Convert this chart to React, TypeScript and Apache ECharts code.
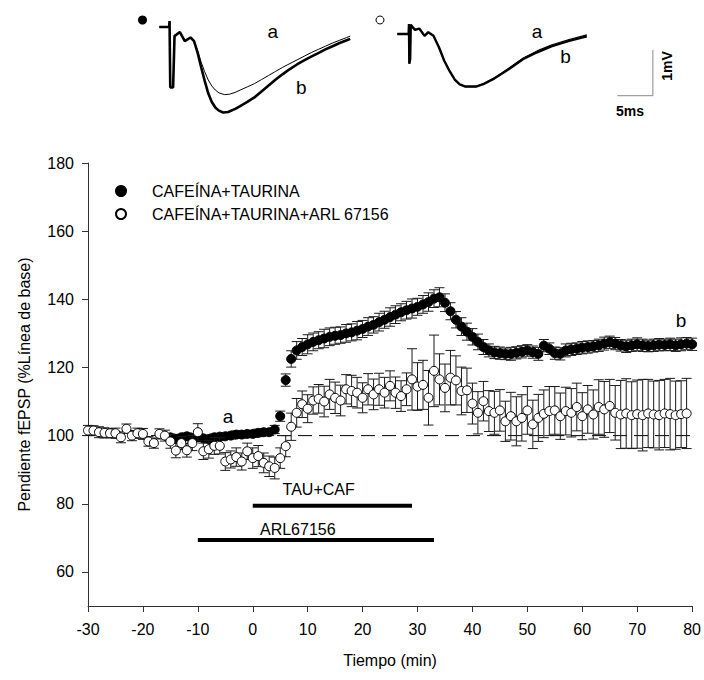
import React, { useEffect, useRef } from 'react';
import * as echarts from 'echarts';

const FONT = '"Liberation Sans", Arial, Helvetica, sans-serif';

// ---- Main time course ----
const cafTauName = 'CAFEÍNA+TAURINA';
const arlName = 'CAFEÍNA+TAURINA+ARL 67156';

const cafTauTime = [
  -15, -14, -13, -12, -11, -10, -9, -8, -7, -6, -5, -4, -3, -2, -1,
  0, 1, 2, 3, 4, 5, 6, 7, 8, 9, 10, 11, 12, 13, 14, 15, 16, 17, 18, 19,
  20, 21, 22, 23, 24, 25, 26, 27, 28, 29, 30, 31, 32, 33, 34, 35, 36, 37, 38, 39,
  40, 41, 42, 43, 44, 45, 46, 47, 48, 49, 50, 51, 52, 53, 54, 55, 56, 57, 58, 59,
  60, 61, 62, 63, 64, 65, 66, 67, 68, 69, 70, 71, 72, 73, 74, 75, 76, 77, 78, 79, 80,
];
const cafTauMean = [
  99.5, 99.0, 99.5, 99.8, 99.3, 99.5, 99.2, 99.0, 99.5, 99.7, 99.8, 100.0, 100.3, 100.3, 100.5,
  100.5, 100.8, 101.0, 101.0, 101.8, 105.7, 116.3, 122.5, 125.0, 126.0, 126.8, 127.5, 128.0, 128.5, 129.0,
  129.3, 129.5, 130.0, 130.3, 130.8, 131.3, 132.0, 132.5, 133.3, 134.0, 134.8, 135.5, 136.2, 136.8, 137.3,
  137.8, 138.5, 139.2, 140.2, 140.6, 139.0, 136.5, 134.0, 132.0, 130.5, 129.0, 127.5, 126.0, 125.0, 124.4,
  124.2, 124.0, 124.0, 124.3, 124.6, 125.0, 124.5, 124.0, 126.4, 125.5, 124.2, 124.0, 125.0, 125.3, 125.5,
  125.8, 126.0, 126.2, 126.5, 127.0, 127.4, 127.0, 126.5, 126.2, 126.5, 126.8, 126.5, 126.3, 126.5, 126.7,
  126.6, 126.8, 126.5, 126.8, 127.0, 126.8,
];
const cafTauSem = [
  1.0, 1.1, 0.9, 1.0, 1.2, 1.0, 0.9, 1.1, 1.0, 1.0, 0.9, 1.0, 1.1, 1.0, 0.9,
  1.0, 1.1, 1.0, 1.0, 1.2, 1.5, 1.8, 2.4, 2.6, 2.5, 2.8, 2.6, 2.5, 2.7, 2.6,
  2.5, 2.4, 2.6, 2.5, 2.7, 2.5, 2.6, 2.4, 2.6, 2.5, 2.7, 2.6, 2.5, 2.6, 2.8,
  2.5, 2.6, 2.7, 2.6, 2.8, 2.6, 2.5, 2.4, 2.6, 2.5, 2.4, 2.3, 2.2, 1.9, 1.8,
  1.8, 1.7, 1.9, 1.8, 1.8, 1.7, 1.8, 1.9, 1.8, 1.7, 1.8, 1.8, 1.9, 1.8, 1.7,
  1.8, 1.8, 1.7, 1.8, 1.9, 1.8, 1.8, 1.7, 1.8, 1.8, 1.9, 1.8, 1.7, 1.8, 1.8,
  1.7, 1.8, 1.8, 1.9, 1.8, 1.8,
];

const arlTime = [
  -30, -29, -28, -27, -26, -25, -24, -23, -22, -21, -20, -19, -18, -17, -16,
  -15, -14, -13, -12, -11, -10, -9, -8, -7, -6, -5, -4, -3, -2, -1,
  0, 1, 2, 3, 4, 5, 6, 7, 8, 9, 10, 11, 12, 13, 14, 15, 16, 17, 18, 19,
  20, 21, 22, 23, 24, 25, 26, 27, 28, 29, 30, 31, 32, 33, 34, 35, 36, 37, 38, 39,
  40, 41, 42, 43, 44, 45, 46, 47, 48, 49, 50, 51, 52, 53, 54, 55, 56, 57, 58, 59,
  60, 61, 62, 63, 64, 65, 66, 67, 68, 69, 70, 71, 72, 73, 74, 75, 76, 77, 78, 79,
];
const arlMean = [
  101.5, 101.5, 101.0, 100.8, 100.7, 100.7, 99.5, 102.0, 100.0, 100.7,
  100.5, 98.3, 97.8, 100.5, 100.0, 98.3, 95.6, 97.8, 95.7, 97.8,
  101.0, 95.4, 96.0, 97.0, 97.0, 92.4, 93.0, 93.7, 92.4, 95.4,
  93.4, 94.0, 92.0, 91.0, 90.5, 93.4, 96.9, 102.6, 106.7, 109.2,
  107.9, 110.3, 110.8, 110.0, 112.1, 111.1, 110.3, 113.6, 113.1, 112.6,
  111.1, 113.6, 112.1, 113.6, 112.6, 114.6, 112.6, 111.6, 113.6, 116.5,
  114.4, 114.9, 111.1, 119.0, 116.5, 114.0, 117.0, 116.2, 113.1, 113.3,
  109.4, 106.7, 110.1, 107.2, 106.7, 107.4, 104.2, 105.7, 104.2, 105.2,
  107.4, 103.3, 105.2, 106.4, 107.2, 107.4, 105.7, 107.2, 106.7, 108.4,
  105.7, 107.7, 106.2, 108.4, 107.7, 108.7, 106.7, 106.2, 106.5, 106.0,
  106.3, 106.0, 106.5, 106.2, 106.0, 106.5, 106.3, 106.0, 106.3, 106.5,
];
const arlSem = [
  1.5, 1.4, 1.6, 1.5, 1.3, 1.5, 1.6, 1.4, 1.5, 1.5, 1.6, 1.4, 1.5, 1.5, 1.6,
  2.0, 2.1, 1.9, 2.0, 2.2, 2.5, 2.4, 2.6, 2.5, 2.4, 2.6, 2.5, 2.7, 2.5, 2.4,
  3.0, 3.1, 2.9, 3.0, 3.2, 3.0, 3.1, 4.0, 4.2, 3.9, 4.1, 4.0, 4.2, 4.5, 4.4,
  4.6, 4.5, 4.3, 4.6, 4.5, 4.4, 4.6, 4.5, 4.7, 4.5, 4.4, 4.6, 4.5, 4.8, 9.0,
  7.0, 7.2, 8.0, 10.5, 7.5, 7.0, 8.0, 7.2, 7.0, 6.5, 6.0, 6.2, 5.8, 6.0, 6.3,
  6.1, 5.9, 7.0, 7.2, 6.8, 7.0, 7.1, 6.9, 7.0, 7.2, 7.0, 6.8, 7.0, 7.1, 7.0,
  6.9, 7.0, 7.2, 8.0, 8.2, 7.8, 8.0, 10.0, 10.2, 9.8, 10.0, 10.5, 10.0, 9.8,
  10.2, 10.0, 10.5, 10.0, 9.8, 10.3,
];

const baselineLevel = 100;
const xRange = [-30, 80];
const yTickValues = [60, 80, 100, 120, 140, 160, 180];

// ---- Treatment bars ----
const treatmentNames = ['TAU+CAF', 'ARL67156'];
const treatmentStart = [0, -10];
const treatmentEnd = [29, 33];
const treatmentLevel = [79.4, 69.4];
const treatmentLabelX = [12, 8.2];
const treatmentLabelY = [84.2, 72.4];

// ---- Annotations on main plot ----
const annotText = ['a', 'b'];
const annotX = [-4.5, 78];
const annotY = [105.6, 133.9];

// ---- Inset traces (ms, mV) ----
const trace1B: number[][] = [
  [0.6, 0], [2.0, 0], [2.05, 0.13], [2.15, -1.32], [2.55, -1.32], [2.75, -0.2], [3.5, -0.11],
  [4.2, -0.31], [5.0, -0.23], [5.5, -0.31], [6.0, -0.56], [6.5, -0.88], [7.0, -1.18], [7.5, -1.45],
  [8.0, -1.64], [8.5, -1.76], [9.0, -1.83], [9.6, -1.87], [10.3, -1.86], [11.3, -1.79], [12, -1.73],
  [13, -1.64], [14, -1.54], [15, -1.41], [16, -1.28], [17, -1.15], [18, -1.03], [19, -0.92],
  [20, -0.82], [21, -0.73], [22, -0.65], [23, -0.57], [24, -0.49], [25, -0.42], [26, -0.35],
  [27, -0.29], [27.5, -0.26],
];
const trace1A: number[][] = [
  [0.6, 0], [2.0, 0], [2.05, 0.13], [2.15, -1.32], [2.55, -1.32], [2.75, -0.2], [3.5, -0.11],
  [4.2, -0.31], [5.0, -0.23], [5.5, -0.31], [6.0, -0.52], [6.5, -0.77], [7.0, -0.98], [7.5, -1.16],
  [8.0, -1.29], [8.5, -1.38], [9.0, -1.44], [9.8, -1.48], [10.5, -1.47], [11.3, -1.43], [12, -1.38],
  [13, -1.31], [14, -1.24], [15, -1.15], [16, -1.06], [17, -0.97], [18, -0.88], [19, -0.8],
  [20, -0.72], [21, -0.64], [22, -0.56], [23, -0.49], [24, -0.42], [25, -0.35], [26, -0.29],
  [27, -0.23], [27.5, -0.2],
];
const trace2B: number[][] = [
  [0.6, 0], [2.2, 0], [2.25, 0.22], [2.3, -0.65], [2.42, -0.55], [2.5, 0.2], [3.1, 0.09],
  [3.7, 0.12], [4.45, -0.04], [4.96, 0.04], [5.7, -0.04], [6.5, -0.3], [7.2, -0.58], [8.0, -0.82],
  [8.7, -1.0], [9.4, -1.1], [10.2, -1.15], [11.7, -1.15], [12.8, -1.09], [14.3, -0.97], [16.3, -0.77],
  [18.3, -0.55], [20.3, -0.4], [22.3, -0.27], [24.8, -0.15], [27.3, -0.05],
];
const trace2A: number[][] = [
  [0.6, 0], [2.2, 0], [2.25, 0.22], [2.3, -0.65], [2.42, -0.55], [2.5, 0.2], [3.1, 0.09],
  [3.7, 0.12], [4.45, -0.04], [4.96, 0.04], [5.7, -0.04], [6.5, -0.3], [7.2, -0.58], [8.0, -0.82],
  [8.7, -1.0], [9.4, -1.1], [10.2, -1.15], [11.7, -1.15], [12.8, -1.09], [14.3, -0.96], [16.3, -0.75],
  [18.3, -0.53], [20.3, -0.37], [22.3, -0.24], [24.8, -0.12], [27.3, -0.02],
];
const trace1LabelText = ['a', 'b'];
const trace1LabelX = [16.6, 20.6];
const trace1LabelY = [-0.1, -1.32];
const trace2LabelText = ['a', 'b'];
const trace2LabelX = [20.3, 24.3];
const trace2LabelY = [0.05, -0.5];
const scaleBarX = [31.6, 36.6, 36.6];
const scaleBarY = [-1.35, -1.35, -0.35];

function errorBarRender(params: any, api: any) {
  const x = api.value(0);
  const lo = api.coord([x, api.value(1)]);
  const hi = api.coord([x, api.value(2)]);
  const half = 5;
  const style = { stroke: '#1a1a1a', lineWidth: 1 };
  return {
    type: 'group',
    children: [
      { type: 'line', shape: { x1: lo[0], y1: lo[1], x2: hi[0], y2: hi[1] }, style },
      { type: 'line', shape: { x1: lo[0] - half, y1: lo[1], x2: lo[0] + half, y2: lo[1] }, style },
      { type: 'line', shape: { x1: hi[0] - half, y1: hi[1], x2: hi[0] + half, y2: hi[1] }, style },
    ],
  };
}

function labelScatter(names: string[], xs: number[], ys: number[], fontSize: number, axisIndex: number) {
  return {
    type: 'scatter',
    xAxisIndex: axisIndex,
    yAxisIndex: axisIndex,
    data: names.map((n, i) => ({ name: n, value: [xs[i], ys[i]] })),
    symbolSize: 1,
    itemStyle: { color: 'rgba(0,0,0,0)', opacity: 1 },
    label: { show: true, position: 'inside', formatter: '{b}', color: '#000', opacity: 1, fontSize, fontFamily: FONT },
    silent: true,
    z: 2,
  };
}

function buildOption() {
  const cafPts = cafTauTime.map((t, i) => [t, cafTauMean[i]]);
  const cafErr = cafTauTime.map((t, i) => [t, cafTauMean[i] - cafTauSem[i], cafTauMean[i] + cafTauSem[i]]);
  const arlPts = arlTime.map((t, i) => [t, arlMean[i]]);
  const arlErr = arlTime.map((t, i) => [t, arlMean[i] - arlSem[i], arlMean[i] + arlSem[i]]);

  const axisColor = '#333';
  const hiddenAxis = { show: false };

  const series: any[] = [
    {
      type: 'line',
      name: 'baseline',
      data: [[xRange[0], baselineLevel], [xRange[1], baselineLevel]],
      showSymbol: false,
      lineStyle: { color: '#000', width: 1, type: [14, 7] },
      silent: true,
      z: 1,
    },
    ...treatmentNames.map((n, i) => ({
      type: 'line',
      name: n + ' bar',
      data: [[treatmentStart[i], treatmentLevel[i]], [treatmentEnd[i], treatmentLevel[i]]],
      showSymbol: false,
      lineStyle: { color: '#000', width: 4, cap: 'butt' },
      silent: true,
      z: 2,
    })),
    labelScatter(treatmentNames, treatmentLabelX, treatmentLabelY, 16, 0),
    labelScatter(annotText, annotX, annotY, 19, 0),
    {
      type: 'custom',
      name: cafTauName + ' err',
      renderItem: errorBarRender,
      data: cafErr,
      encode: { x: 0, y: [1, 2] },
      silent: true,
      z: 3,
    },
    {
      type: 'scatter',
      name: cafTauName,
      data: cafPts,
      symbol: 'circle',
      symbolSize: 9,
      itemStyle: { color: '#000', borderColor: '#000', borderWidth: 1, opacity: 1 },
      z: 4,
    },
    {
      type: 'custom',
      name: arlName + ' err',
      renderItem: errorBarRender,
      data: arlErr,
      encode: { x: 0, y: [1, 2] },
      silent: true,
      z: 5,
    },
    {
      type: 'scatter',
      name: arlName,
      data: arlPts,
      symbol: 'circle',
      symbolSize: 9,
      itemStyle: { color: '#fff', borderColor: '#000', borderWidth: 1, opacity: 1 },
      z: 6,
    },
    // Inset traces
    {
      type: 'line', xAxisIndex: 1, yAxisIndex: 1, data: trace1A, showSymbol: false,
      lineStyle: { color: '#000', width: 1 }, silent: true, z: 2,
    },
    {
      type: 'line', xAxisIndex: 1, yAxisIndex: 1, data: trace1B, showSymbol: false,
      lineStyle: { color: '#000', width: 2.6 }, silent: true, z: 2,
    },
    labelScatter(trace1LabelText, trace1LabelX, trace1LabelY, 19, 1),
    {
      type: 'line', xAxisIndex: 2, yAxisIndex: 2, data: trace2A, showSymbol: false,
      lineStyle: { color: '#000', width: 1.2 }, silent: true, z: 2,
    },
    {
      type: 'line', xAxisIndex: 2, yAxisIndex: 2, data: trace2B, showSymbol: false,
      lineStyle: { color: '#000', width: 2.4 }, silent: true, z: 2,
    },
    {
      type: 'line', xAxisIndex: 2, yAxisIndex: 2,
      data: scaleBarX.map((x, i) => [x, scaleBarY[i]]), showSymbol: false,
      lineStyle: { color: '#888', width: 1 }, silent: true, z: 2,
    },
    labelScatter(trace2LabelText, trace2LabelX, trace2LabelY, 19, 2),
  ];

  return {
    animation: false,
    backgroundColor: '#fff',
    textStyle: { fontFamily: FONT },
    legend: {
      data: [cafTauName, arlName],
      orient: 'vertical',
      left: 110,
      top: 178,
      itemGap: 7,
      itemWidth: 10,
      itemHeight: 10,
      icon: 'circle',
      textStyle: { fontSize: 16, color: '#000', fontFamily: FONT, padding: [0, 0, 0, 21] },
      selectedMode: false,
    },
    grid: [
      { left: 88, right: 7, top: 163, bottom: 74 },
      { left: 155, top: 13.3, width: 198.8, height: 123.4 },
      { left: 393, top: 20.3, width: 262.7, height: 123.4 },
    ],
    xAxis: [
      {
        type: 'value', gridIndex: 0, min: xRange[0], max: xRange[1], interval: 10,
        name: 'Tiempo (min)', nameLocation: 'middle', nameGap: 46,
        nameTextStyle: { fontSize: 16, color: '#000', fontFamily: FONT },
        axisLine: { onZero: false, lineStyle: { color: axisColor, width: 1 } },
        axisTick: { show: true, length: 6, lineStyle: { color: axisColor } },
        axisLabel: { fontSize: 16, color: '#000', margin: 15, fontFamily: FONT },
        splitLine: { show: false },
      },
      { type: 'value', gridIndex: 1, min: 0, max: 28, ...hiddenAxis },
      { type: 'value', gridIndex: 2, min: 0, max: 37, ...hiddenAxis },
    ],
    yAxis: [
      {
        type: 'value', gridIndex: 0, min: 50, max: 180,
        name: 'Pendiente fEPSP (%Línea de base)', nameLocation: 'middle', nameGap: 56,
        nameTextStyle: { fontSize: 16, color: '#000', fontFamily: FONT },
        axisLine: { show: true, onZero: false, lineStyle: { color: axisColor, width: 1 } },
        axisTick: { show: true, length: 6, lineStyle: { color: axisColor }, customValues: yTickValues },
        axisLabel: { fontSize: 16, color: '#000', margin: 14, fontFamily: FONT, customValues: yTickValues },
        splitLine: { show: false },
      },
      { type: 'value', gridIndex: 1, min: -2.4, max: 0.3, ...hiddenAxis },
      { type: 'value', gridIndex: 2, min: -2.4, max: 0.3, ...hiddenAxis },
    ],
    graphic: [
      { type: 'circle', shape: { cx: 142.5, cy: 20, r: 4.5 }, style: { fill: '#000' } },
      { type: 'circle', shape: { cx: 380, cy: 20, r: 4 }, style: { fill: '#fff', stroke: '#000', lineWidth: 1 } },
      {
        type: 'text', x: 630, y: 111,
        style: { text: '5ms', font: `bold 14px ${FONT}`, fill: '#000', align: 'center', verticalAlign: 'middle' },
      },
      {
        type: 'text', x: 667, y: 66, rotation: Math.PI / 2,
        style: { text: '1mV', font: `bold 14px ${FONT}`, fill: '#000', align: 'center', verticalAlign: 'middle' },
      },
    ],
    series,
  };
}

export default function App() {
  const ref = useRef<HTMLDivElement>(null);
  useEffect(() => {
    if (!ref.current) return;
    const chart = echarts.init(ref.current, null, { renderer: 'svg' });
    chart.setOption(buildOption() as any);
    return () => chart.dispose();
  }, []);
  return (
    <div
      ref={ref}
      style={{ position: 'absolute', left: 0, top: 0, width: 704, height: 680, background: '#fff' }}
    />
  );
}
